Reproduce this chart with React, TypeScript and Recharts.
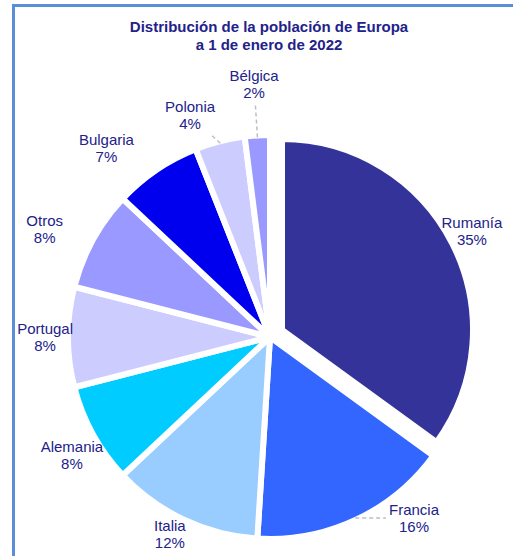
import React from 'react';
import { PieChart, Pie, Cell } from 'recharts';

const COUNTRIES = ['Rumanía', 'Francia', 'Italia', 'Alemania', 'Portugal', 'Otros', 'Bulgaria', 'Polonia', 'Bélgica'];
const SHARES = [35, 16, 12, 8, 8, 8, 7, 4, 2];
const COLORS = ['#333399', '#3366ff', '#99ccff', '#00ccff', '#ccccff', '#9999ff', '#0000ee', '#ccccff', '#9999ff'];

// labels that were dragged off their default spot: extra radial px, turn in degrees (clockwise)
const LABEL_MOVE: Record<string, { push: number; turn: number }> = {
  Otros: { push: 25, turn: -3.2 },
  Bulgaria: { push: 18, turn: -6.7 },
  Polonia: { push: 10.5, turn: -5.4 },
  'Bélgica': { push: 34, turn: 0 },
  Francia: { push: 1.5, turn: -13.3 },
  'Rumanía': { push: -10.5, turn: -0.6 },
  Alemania: { push: -6, turn: -2 },
  Italia: { push: -2, turn: 1.7 },
  Portugal: { push: -4, turn: 0 },
};
const LEADERS = ['Bélgica', 'Polonia', 'Francia', 'Rumanía'];
const EXPLODED = 'Rumanía';

const TEXT = '#22228a';
const FONT = '"Liberation Sans", Arial, sans-serif';
const RAD = Math.PI / 180;

const data = COUNTRIES.map((name, i) => ({ name, value: SHARES[i] }));

let ctx: CanvasRenderingContext2D | null = null;
const measure = (s: string) => {
  if (!ctx) ctx = document.createElement('canvas').getContext('2d');
  if (!ctx) return s.length * 8;
  ctx.font = `15px ${FONT}`;
  return ctx.measureText(s).width;
};

const makeLabel = (show: (name: string) => boolean) => (p: any) => {
  const name = COUNTRIES[p.index];
  if (!show(name)) return null;
  const pct = `${SHARES[p.index]}%`;
  const move = LABEL_MOVE[name] ?? { push: 0, turn: 0 };
  const r = p.outerRadius - 3;
  const a0 = -p.midAngle * RAD;
  const ex = p.cx + (r + 1) * Math.cos(a0);
  const ey = p.cy + (r + 1) * Math.sin(a0);
  const ang = -(p.midAngle - move.turn) * RAD;
  const ux = Math.cos(ang);
  const uy = Math.sin(ang);
  const w = Math.max(measure(name), measure(pct));
  const h = 34;
  const half = (Math.abs(ux) * w) / 2 + (Math.abs(uy) * h) / 2;
  const d = r + 2 + half + move.push;
  const x = p.cx + d * ux;
  const y = p.cy + d * uy;
  // leader end: where the line toward the slice leaves the label box
  const vx = ex - x;
  const vy = ey - y;
  const t = Math.min((w / 2 + 3) / Math.max(Math.abs(vx), 1e-6), (h / 2 + 2) / Math.max(Math.abs(vy), 1e-6));
  const lx = x + t * vx;
  const ly = y + t * vy;
  const lead = LEADERS.includes(name) && t < 1 && Math.hypot(lx - ex, ly - ey) > 3;
  return (
    <g key={`lbl-${name}`}>
      {lead && (
        <line x1={ex} y1={ey} x2={lx} y2={ly} stroke="#bfbfbf" strokeWidth={1.5} strokeDasharray="4 3" />
      )}
      <text x={x} y={y - 8.5} textAnchor="middle" dominantBaseline="central" fill={TEXT} fontSize={15} fontFamily={FONT}>
        {name}
      </text>
      <text x={x} y={y + 8.5} textAnchor="middle" dominantBaseline="central" fill={TEXT} fontSize={15} fontFamily={FONT}>
        {pct}
      </text>
    </g>
  );
};

export default function App() {
  return (
    <div style={{ position: 'absolute', left: 0, top: 0, width: 513, height: 556, overflow: 'hidden', background: '#fff' }}>
      <div
        style={{
          position: 'absolute',
          left: 12,
          top: 4,
          width: 700,
          height: 700,
          border: '3px solid #5b8ed8',
          boxSizing: 'border-box',
        }}
      />
      <div
        style={{
          position: 'absolute',
          left: 0,
          top: 18,
          width: 538,
          textAlign: 'center',
          fontFamily: FONT,
          fontWeight: 'bold',
          fontSize: 15,
          lineHeight: '18px',
          color: TEXT,
        }}
      >
        Distribución de la población de Europa
        <br />a 1 de enero de 2022
      </div>
      <div style={{ position: 'absolute', left: 0, top: 0 }}>
        <PieChart width={513} height={556} margin={{ top: 0, right: 0, bottom: 0, left: 0 }}>
          <Pie
            data={data}
            dataKey="value"
            nameKey="name"
            cx={270}
            cy={337}
            outerRadius={202}
            startAngle={90}
            endAngle={-270}
            stroke="#ffffff"
            strokeWidth={6}
            labelLine={false}
            label={makeLabel((n) => n !== EXPLODED)}
            isAnimationActive={false}
          >
            {data.map((d, i) => (
              <Cell
                key={d.name}
                fill={d.name === EXPLODED ? 'none' : COLORS[i]}
                stroke={d.name === EXPLODED ? 'none' : '#ffffff'}
              />
            ))}
          </Pie>
          <Pie
            data={data}
            dataKey="value"
            nameKey="name"
            cx={282}
            cy={330}
            outerRadius={191}
            startAngle={90}
            endAngle={-270}
            stroke="#ffffff"
            strokeWidth={6}
            labelLine={false}
            label={makeLabel((n) => n === EXPLODED)}
            isAnimationActive={false}
          >
            {data.map((d, i) => (
              <Cell
                key={d.name}
                fill={d.name === EXPLODED ? COLORS[i] : 'none'}
                stroke={d.name === EXPLODED ? '#ffffff' : 'none'}
              />
            ))}
          </Pie>
        </PieChart>
      </div>
    </div>
  );
}
